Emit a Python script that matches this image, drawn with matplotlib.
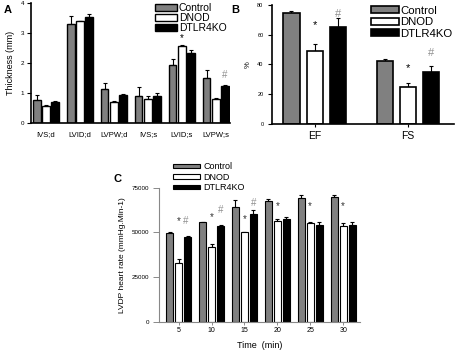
import numpy as np
import matplotlib.pyplot as plt
from matplotlib.patches import Patch

plt.rcParams['font.family'] = ['Liberation Sans', 'DejaVu Sans']

groups = ['Control', 'DNOD', 'DTLR4KO']
colors = ['#808080', 'white', 'black']

# panel A
a_cats = ['IVS;d', 'LVID;d', 'LVPW;d', 'IVS;s', 'LVID;s', 'LVPW;s']
a_ctrl = [0.78, 3.32, 1.13, 0.92, 1.93, 1.52]
a_ctrl_err = [0.15, 0.25, 0.20, 0.27, 0.20, 0.25]
a_dnod = [0.58, 3.39, 0.70, 0.82, 2.58, 0.82]
a_dnod_err = [0.04, 0.02, 0.04, 0.07, 0.02, 0.03]
a_ko = [0.70, 3.55, 0.94, 0.91, 2.34, 1.23]
a_ko_err = [0.04, 0.08, 0.04, 0.08, 0.10, 0.04]

# panel B
b_cats = ['EF', 'FS']
b_ctrl = [74.5, 42.0]
b_ctrl_err = [1.5, 1.5]
b_dnod = [49.0, 24.5]
b_dnod_err = [5.0, 3.0]
b_ko = [65.0, 35.0]
b_ko_err = [6.0, 4.0]
b_star_y = [66.5, 37.6]
b_hash_y = [74.0, 47.6]

# panel C
c_time = [5, 10, 15, 20, 25, 30]
c_ctrl = [49500, 56000, 64500, 67500, 69500, 70000]
c_ctrl_err = [800, 0, 3500, 1500, 1500, 1200]
c_dnod = [33000, 42000, 50000, 56500, 55500, 53500]
c_dnod_err = [2000, 1500, 0, 1000, 300, 2000]
c_ko = [47500, 53500, 60500, 57500, 54000, 54000]
c_ko_err = [300, 800, 2000, 1000, 1800, 1800]
c_star_y = [56500, 58800, 57600, 64900, 64900, 64900]
c_hash_x = [6.1, 11.4, 16.4]
c_hash_y = [56500, 62700, 66600]

fig = plt.figure(figsize=(4.56, 3.51), dpi=100)


def bars(ax, x, vals, errs, width, offset, lw=1.0):
    for k, (v, e) in enumerate(zip(vals, errs)):
        xs = np.asarray(x, dtype=float) + (k - 1) * offset
        ax.bar(xs, v, width, color=colors[k], edgecolor='black', linewidth=lw, zorder=2)
        ax.errorbar(xs, v, yerr=[np.zeros(len(v)), e], fmt='none', ecolor='black',
                    elinewidth=0.8, capsize=1.5, capthick=0.8, zorder=1)


def style(ax, col='black', lw=1.2):
    for s in ['top', 'right']:
        ax.spines[s].set_visible(False)
    for s in ['left', 'bottom']:
        ax.spines[s].set_color(col)
        ax.spines[s].set_linewidth(lw)


# ---- A
axA = fig.add_axes([0.068, 0.649, 0.436, 0.342])
xa = np.arange(len(a_cats))
bars(axA, xa, [a_ctrl, a_dnod, a_ko], [a_ctrl_err, a_dnod_err, a_ko_err], 0.22, 0.27)
axA.set_xlim(-0.44, 5.41)
axA.set_ylim(0, 4)
axA.set_yticks([0, 1, 2, 3, 4])
axA.set_xticks(xa)
axA.set_xticklabels(a_cats, fontsize=5.5)
axA.tick_params(axis='x', length=0, pad=6)
axA.tick_params(axis='y', labelsize=4.5, length=3, width=0.8, pad=2)
axA.set_ylabel('Thickness (mm)', fontsize=6.5, labelpad=4)
style(axA)
axA.text(4, 2.83, '*', ha='center', va='center', fontsize=7)
axA.text(5 + 0.27, 1.6, '#', ha='center', va='center', fontsize=7, color='#909090')
fig.text(0.008, 0.985, 'A', fontsize=8, fontweight='bold', ha='left', va='top')
hA = [Patch(facecolor=c, edgecolor='black', linewidth=1.0) for c in colors]
axA.legend(hA, groups, loc='upper right', bbox_to_anchor=(1.015, 1.05), frameon=False,
           fontsize=7.5, handlelength=2.1, handleheight=0.6, handletextpad=0.15,
           labelspacing=0.0, borderpad=0.1)

# ---- B
axB = fig.add_axes([0.596, 0.647, 0.399, 0.339])
xb = np.arange(len(b_cats))
bars(axB, xb, [b_ctrl, b_dnod, b_ko], [b_ctrl_err, b_dnod_err, b_ko_err], 0.175, 0.25, lw=1.2)
axB.set_xlim(-0.46, 1.49)
axB.set_ylim(0, 80)
axB.set_yticks([0, 20, 40, 60, 80])
axB.set_xticks(xb)
axB.set_xticklabels(b_cats, fontsize=7.5)
axB.tick_params(axis='x', length=2, pad=3)
axB.tick_params(axis='y', labelsize=4, length=3, width=0.8, pad=3)
axB.set_ylabel('%', fontsize=5.5, labelpad=4)
style(axB)
for i in range(2):
    axB.text(i, b_star_y[i], '*', ha='center', va='center', fontsize=8)
    axB.text(i + 0.25, b_hash_y[i], '#', ha='center', va='center',
             fontsize=8, color='#909090')
fig.text(0.508, 0.985, 'B', fontsize=8, fontweight='bold', ha='left', va='top')
hB = [Patch(facecolor=c, edgecolor='black', linewidth=1.2) for c in colors]
axB.legend(hB, groups, loc='upper right', bbox_to_anchor=(1.03, 1.05), frameon=False,
           fontsize=8.2, handlelength=2.4, handleheight=0.6, handletextpad=0.15,
           labelspacing=0.12, borderpad=0.1)

# ---- C
axC = fig.add_axes([0.349, 0.083, 0.441, 0.382])
bars(axC, c_time, [c_ctrl, c_dnod, c_ko], [c_ctrl_err, c_dnod_err, c_ko_err], 1.07, 1.37, lw=0.8)
axC.set_xlim(2.04, 32.6)
axC.set_ylim(0, 75000)
axC.set_yticks([0, 25000, 50000, 75000])
axC.set_xticks(c_time)
axC.tick_params(axis='x', labelsize=5, length=2.5, width=0.6, pad=1.5, color='#777777')
axC.tick_params(axis='y', labelsize=4.5, length=4, width=0.6, pad=3, color='#777777')
axC.set_ylabel('LVDP heart rate (mmHg.Min-1)', fontsize=6, labelpad=4)
axC.set_xlabel('Time  (min)', fontsize=6.5, labelpad=5)
style(axC, col='#888888', lw=0.8)
for i, t in enumerate(c_time):
    axC.text(t, c_star_y[i], '*', ha='center', va='center', fontsize=7, color='#333333')
for i in range(3):
    axC.text(c_hash_x[i], c_hash_y[i], '#', ha='center', va='center',
             fontsize=7, color='#909090')
fig.text(0.248, 0.505, 'C', fontsize=8, fontweight='bold', ha='left', va='top')
hC = [Patch(facecolor=c, edgecolor='black', linewidth=0.8) for c in colors]
fig.legend(hC, groups, loc='upper left', bbox_to_anchor=(0.368, 0.553), frameon=False,
           fontsize=6.5, handlelength=3.0, handleheight=0.35, handletextpad=0.3,
           labelspacing=0.15, borderpad=0.1)

plt.savefig('out.png', dpi=100)
